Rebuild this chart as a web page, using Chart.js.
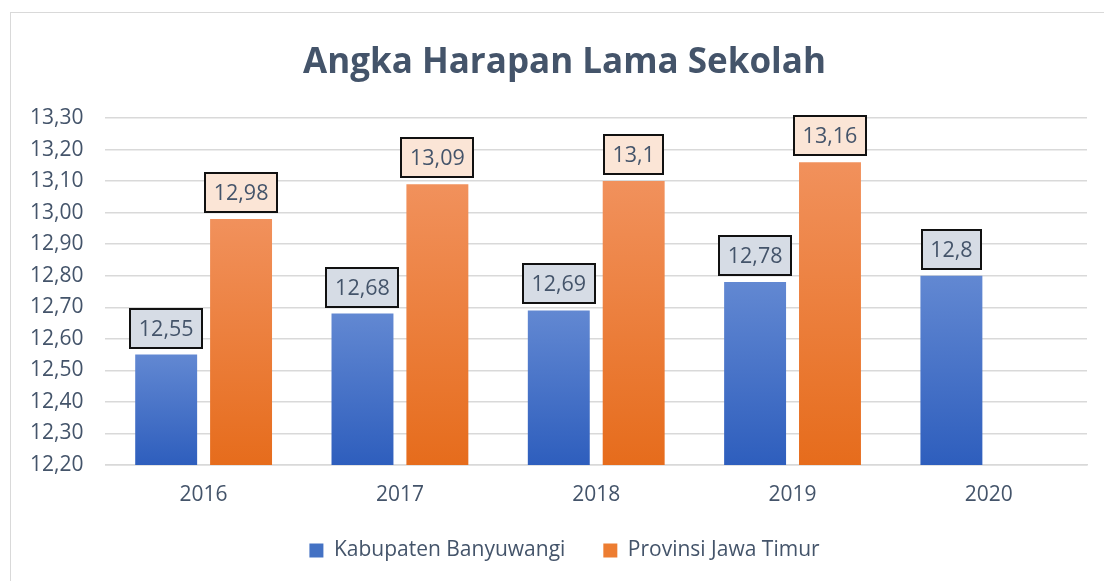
<!DOCTYPE html>
<html>
<head>
<meta charset="utf-8">
<script src="https://cdn.jsdelivr.net/npm/chart.js@4.4.1/dist/chart.umd.min.js"></script>
<style>
  html, body { margin: 0; padding: 0; background: #ffffff; }
  #wrap { position: relative; width: 1104px; height: 581px; overflow: hidden; }
  #frame { position: absolute; left: 10px; top: 12px; width: 1110px; height: 590px; border: 1px solid #D9D9D9; box-sizing: border-box; }
  canvas { position: absolute; left: 0; top: 0; }
</style>
</head>
<body>
<div id="wrap">
  <div id="frame"></div>
  <canvas id="c" width="1104" height="581"></canvas>
</div>
<script>
const categories = ["2016", "2017", "2018", "2019", "2020"];
const kabupatenBanyuwangi = [12.55, 12.68, 12.69, 12.78, 12.8];
const provinsiJawaTimur = [12.98, 13.09, 13.1, 13.16, null];
const seriesNames = ["Kabupaten Banyuwangi", "Provinsi Jawa Timur"];
const yMin = 12.2, yMax = 13.3, yStep = 0.1;
const titleText = "Angka Harapan Lama Sekolah";

const FONT = "'Open Sans', 'Noto Sans', sans-serif";
const TEXT = "#44546A";

function gradFor(top, bottom) {
  return function(ctx) {
    const chart = ctx.chart;
    const area = chart.chartArea;
    if (!area) return bottom;
    const v = ctx.raw;
    if (v == null) return bottom;
    const ys = chart.scales.y;
    const yTop = ys.getPixelForValue(v);
    const yBot = ys.getPixelForValue(yMin);
    if (!isFinite(yTop) || !isFinite(yBot) || yBot - yTop < 1) return bottom;
    const g = chart.ctx.createLinearGradient(0, yTop, 0, yBot);
    g.addColorStop(0, top);
    g.addColorStop(1, bottom);
    return g;
  };
}

const shiftBlocks = {
  id: 'shiftBlocks',
  afterLayout(chart) {
    const dx = 17;
    if (chart.titleBlock) { chart.titleBlock.left += dx; chart.titleBlock.right += dx; }
    if (chart.legend) { chart.legend.left += dx; chart.legend.right += dx; }
    const xs = chart.scales.x;
    xs.bottom = xs.top + 60;
  }
};

const labelBoxes = {
  id: 'labelBoxes',
  afterDatasetsDraw(chart) {
    const ctx = chart.ctx;
    const fills = ["#D6DCE5", "#FBE5D6"];
    ctx.save();
    ctx.font = "21.5px " + FONT;
    chart.data.datasets.forEach((ds, di) => {
      const meta = chart.getDatasetMeta(di);
      meta.data.forEach((bar, i) => {
        const v = ds.data[i];
        if (v == null) return;
        const txt = String(v).replace('.', ',');
        const tw = ctx.measureText(txt).width;
        const w = Math.round(tw + 17), h = 39;
        const x = Math.round(bar.x - w / 2);
        const y = Math.round(bar.y - 7 - h);
        ctx.fillStyle = fills[di];
        ctx.fillRect(x, y, w, h);
        ctx.lineWidth = 2;
        ctx.strokeStyle = "#111111";
        ctx.strokeRect(x, y, w, h);
        ctx.fillStyle = TEXT;
        ctx.textAlign = "center";
        ctx.textBaseline = "middle";
        ctx.fillText(txt, bar.x, y + h / 2 + 1);
      });
    });
    ctx.restore();
  }
};

new Chart(document.getElementById('c'), {
  type: 'bar',
  data: {
    labels: categories,
    datasets: [
      {
        label: seriesNames[0],
        data: kabupatenBanyuwangi,
        backgroundColor: gradFor("#6288D2", "#2E5EBD"),
        borderWidth: 0,
        categoryPercentage: 0.763,
        barPercentage: 0.827
      },
      {
        label: seriesNames[1],
        data: provinsiJawaTimur,
        backgroundColor: gradFor("#F1915C", "#E66C1C"),
        borderWidth: 0,
        categoryPercentage: 0.763,
        barPercentage: 0.827
      }
    ]
  },
  options: {
    responsive: false,
    animation: false,
    devicePixelRatio: 1,
    layout: { padding: { left: 8, right: 17, top: 0, bottom: 10 } },
    plugins: {
      title: {
        display: true,
        text: titleText,
        color: TEXT,
        font: { family: FONT, size: 35, weight: 'bold' },
        padding: { top: 42, bottom: 34 }
      },
      legend: {
        display: true,
        position: 'bottom',
        labels: {
          color: TEXT,
          font: { family: FONT, size: 21 },
          boxWidth: 14,
          boxHeight: 14,
          padding: 38,
          generateLabels(chart) {
            const cols = ["#4472C4", "#ED7D31"];
            return chart.data.datasets.map((ds, i) => ({
              text: ds.label,
              fillStyle: cols[i],
              strokeStyle: cols[i],
              lineWidth: 0,
              fontColor: TEXT,
              datasetIndex: i,
              hidden: false
            }));
          }
        }
      },
      tooltip: { enabled: false }
    },
    scales: {
      x: {
        grid: { display: false, drawTicks: false },
        border: { display: true, color: "#D9D9D9", width: 1.5 },
        ticks: { color: TEXT, font: { family: FONT, size: 21 }, padding: 17 },
        afterFit(scale) { scale.height = 37; }
      },
      y: {
        min: yMin,
        max: yMax,
        grid: { color: "#D9D9D9", lineWidth: 1.5, drawTicks: false },
        border: { display: false },
        ticks: {
          stepSize: yStep,
          color: TEXT,
          font: { family: FONT, size: 21 },
          padding: 22,
          callback: (v) => Number(v).toFixed(2).replace('.', ',')
        }
      }
    }
  },
  plugins: [shiftBlocks, labelBoxes]
});
</script>
</body>
</html>
